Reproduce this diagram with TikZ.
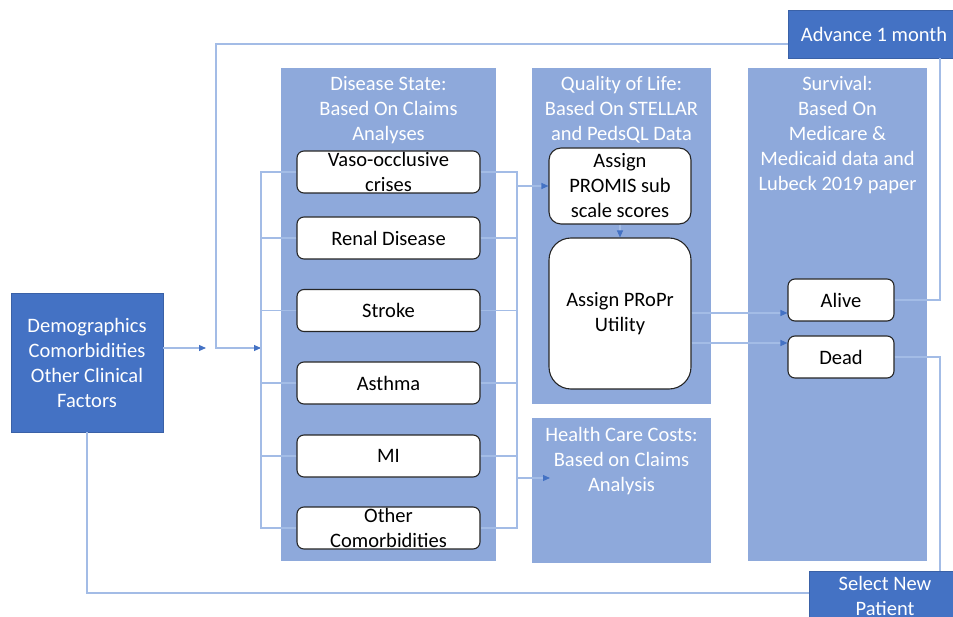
\documentclass[tikz,border=0pt]{standalone}
\usepackage{fontspec}
\setmainfont{Carlito}
\usetikzlibrary{arrows.meta}
\definecolor{darkblue}{HTML}{4472C4}
\definecolor{panelblue}{HTML}{8EA9DB}
\definecolor{connblue}{HTML}{A3BCE6}
\definecolor{tipblue}{HTML}{4472C4}
\newcommand\fsz{\fontsize{20.5}{25}\selectfont}
\begin{document}
\begin{tikzpicture}[x=1pt,y=-1pt,
  panelbox/.style={rectangle, fill=panelblue, draw=none, inner sep=0pt},
  ttl/.style={text=white, align=center, font=\fsz, inner sep=0pt},
  lbl/.style={text=black, align=center, font=\fsz, inner sep=0pt},
  wbox/.style={rectangle, rounded corners=7pt, draw=black!85, line width=1.1pt, fill=white, inner sep=0pt, font=\fsz, align=center, text=black},
  dbox/.style={rectangle, fill=darkblue, draw=darkblue!85!black, line width=0.6pt, inner sep=0pt, font=\fsz, align=center, text=white},
  conn/.style={draw=connblue, line width=1.1pt},
  arr/.style={conn, -{Triangle[length=7pt,width=6pt,color=tipblue]}}
]
\useasboundingbox (0,0) rectangle (953,617);

% panels
\node[panelbox, minimum width=215pt, minimum height=493pt] (dpanel) at (388.5,314.5) {};
\node[panelbox, minimum width=179pt, minimum height=336pt] (qpanel) at (621.5,236) {};
\node[panelbox, minimum width=179pt, minimum height=145pt] (hpanel) at (621.5,490.5) {};
\node[panelbox, minimum width=179pt, minimum height=493pt] (spanel) at (837.5,314.5) {};

% panel titles
\node[ttl] (dttl) at (388.5,110) {Disease State:\\Based On Claims\\Analyses};
\node[ttl] (qttl) at (621.5,110) {Quality of Life:\\Based On STELLAR\\and PedsQL Data};
\node[ttl] (httl) at (621.5,461) {Health Care Costs:\\Based on Claims\\Analysis};
\node[ttl] (sttl) at (837.5,135) {Survival:\\Based On\\Medicare \&\\Medicaid data and\\Lubeck 2019 paper};

% dark boxes
\node[dbox, minimum width=152pt, minimum height=139pt] (demo) at (87,362.5) {Demographics\\Comorbidities\\Other Clinical\\Factors};
\node[dbox, minimum width=172pt, minimum height=48pt] (adv) at (874,34) {Advance 1 month};
\node[dbox, minimum width=152pt, minimum height=50pt] (sel) at (885,596) {Select New\\Patient};

% disease boxes
\node[wbox, minimum width=183pt, minimum height=42pt, label={[lbl]center:{Vaso-occlusive\\crises}}] (vaso) at (388.5,172) {};
\node[wbox, minimum width=183pt, minimum height=42pt] (renal) at (388.5,238) {Renal Disease};
\node[wbox, minimum width=183pt, minimum height=42pt] (stroke) at (388.5,310.5) {Stroke};
\node[wbox, minimum width=183pt, minimum height=42pt] (asthma) at (388.5,383) {Asthma};
\node[wbox, minimum width=183pt, minimum height=42pt] (mi) at (388.5,456) {MI};
\node[wbox, minimum width=183pt, minimum height=42pt, label={[lbl]center:{Other\\Comorbidities}}] (other) at (388.5,528) {};

% quality of life boxes
\node[wbox, rounded corners=12pt, minimum width=142pt, minimum height=76pt, label={[lbl]center:{Assign\\PROMIS sub\\scale scores}}] (promis) at (620,186) {};
\node[wbox, rounded corners=22pt, minimum width=142pt, minimum height=151pt] (propr) at (620,313.5) {Assign PRoPr\\Utility};

% survival boxes
\node[wbox, minimum width=106pt, minimum height=42pt] (alive) at (841,300) {Alive};
\node[wbox, minimum width=106pt, minimum height=42pt] (dead) at (841,357) {Dead};

% helper coordinates
\coordinate (busL) at (261,0);
\coordinate (busR) at (517,0);
\coordinate (loopX) at (216,0);
\coordinate (rX) at (940,0);
\coordinate (topY) at (0,44);
\coordinate (midY) at (0,348);
\coordinate (botY) at (0,593);
\coordinate (aY) at (0,313);
\coordinate (dY) at (0,343);
\coordinate (demoTip) at (206,348);
\coordinate (hcTip) at (550,478);

% connectors
\draw[arr] (demo.east |- midY) -- (demoTip);
\draw[arr] (adv.west |- topY) -- (loopX |- topY) -- (loopX |- midY) -- (busL |- midY);
\draw[conn] (vaso.west) -- (busL |- vaso.west) -- (busL |- other.west) -- (other.west);
\foreach \n in {renal,stroke,asthma,mi} \draw[conn] (\n.west) -- (busL |- \n.west);
\draw[conn] (vaso.east) -- (busR |- vaso.east) -- (busR |- other.east) -- (other.east);
\foreach \n in {renal,stroke,asthma,mi} \draw[conn] (\n.east) -- (busR |- \n.east);
\draw[arr] (busR |- promis.west) -- (promis.west);
\draw[arr] (busR |- hcTip) -- (hcTip);
\draw[arr] (promis.south) -- (propr.north);
\draw[arr] (propr.east |- aY) -- (alive.west |- aY);
\draw[arr] (propr.east |- dY) -- (dead.west |- dY);
\draw[conn] (alive.east) -| (rX |- adv.south);
\draw[conn] (dead.east) -| (rX |- sel.north);
\draw[conn] (demo.south) |- (sel.west |- botY);
\end{tikzpicture}
\end{document}
